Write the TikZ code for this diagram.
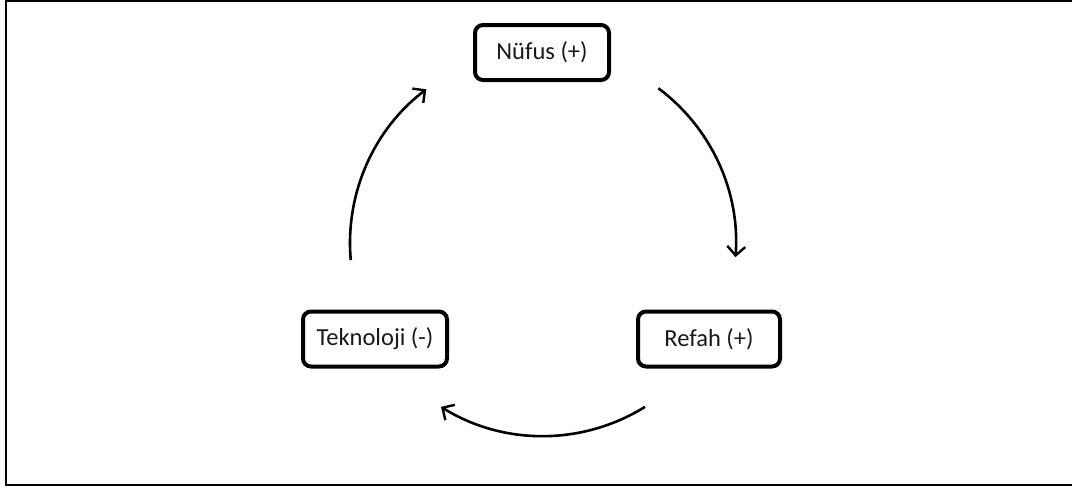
\documentclass[tikz,border=0pt]{standalone}
\usepackage{fontspec}
\setmainfont{Carlito}
\usetikzlibrary{arrows.meta,calc}
\begin{document}
\begin{tikzpicture}[x=1pt,y=-1pt,
  box/.style={draw=black, line width=4pt, rounded corners=8pt, fill=white,
    minimum height=55pt, inner sep=0pt, font=\fontsize{24.5}{28}\selectfont, text=black!90},
  cycarrow/.style={line width=2.6pt, -{Straight Barb[length=9pt,width=18pt,line width=2.4pt]}}]
\useasboundingbox (0,0) rectangle (1072,491);
\draw[line width=2pt] (6,1) rectangle (1080,485);
\node[box, minimum width=134pt] (nufus) at (542,52.5) {Nüfus (+)};
\node[box, minimum width=144pt] (tek) at (375,339) {Teknoloji (-)};
\node[box, minimum width=142pt] (refah) at (709,339) {Refah (+)};
\coordinate (cen) at (543,243);
\coordinate (a1) at ($(cen)+(-53.3:193)$);
\coordinate (a2) at ($(cen)+(58.1:193)$);
\coordinate (a3) at ($(cen)+(174.9:193)$);
\draw[cycarrow] (a1) arc[start angle=-53.3, end angle=4.2, radius=193];
\draw[cycarrow] (a2) arc[start angle=58.1, end angle=121.9, radius=193];
\draw[cycarrow] (a3) arc[start angle=174.9, end angle=232.8, radius=193];
\end{tikzpicture}
\end{document}
